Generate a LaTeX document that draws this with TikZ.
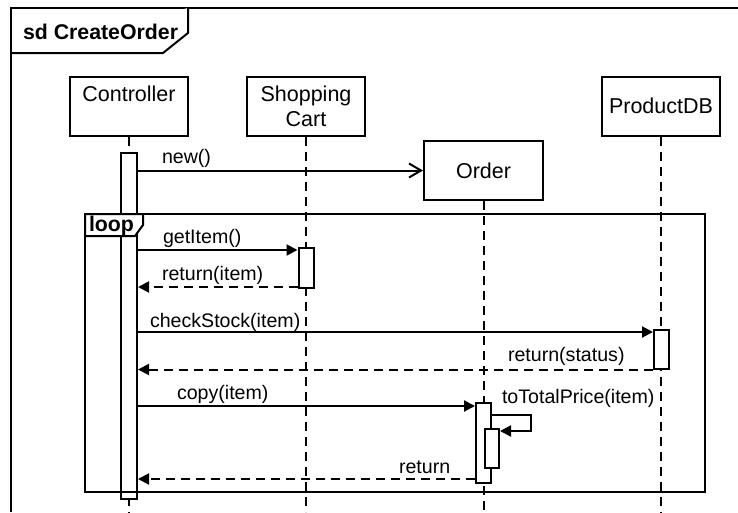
\documentclass[tikz,border=0pt]{standalone}
\usepackage{fontspec}
\setmainfont{Liberation Sans}
\usetikzlibrary{arrows.meta}
\begin{document}
\begin{tikzpicture}[x=1pt,y=-1pt, line width=2pt,
  obj/.style={draw, fill=white, minimum width=118pt, minimum height=59pt, inner sep=0pt, align=center, font=\fontsize{21.5}{25}\selectfont},
  actbar/.style={draw, fill=white, minimum width=15pt, inner sep=0pt},
  lifeline/.style={dash pattern=on 9pt off 6pt},
  msg/.style={-{Triangle[length=11pt,width=11pt]}},
  reply/.style={msg, dash pattern=on 9pt off 6pt},
  create/.style={-{Straight Barb[length=12pt,width=14pt]}},
  lbl/.style={anchor=base west, inner sep=0pt, font=\fontsize{19.6}{22}\selectfont},
  tabtext/.style={anchor=base west, inner sep=0pt, font=\bfseries\fontsize{21.3}{24}\selectfont}]
\useasboundingbox (0,0) rectangle (738,512);
% outer frame
\draw (11,512) |- (738,8);
\draw[fill=white] (188,8) -- (188,33) -- (163,53) -- (11,53);
\node[tabtext] (title) at (22,39) {sd CreateOrder};
% objects
\node[obj] (ctrl) at (129,106) {Controller\\\mbox{}};
\node[obj] (cart) at (306,106.5) {Shopping\\Cart};
\node[obj] (pdb) at (661,106) {ProductDB};
\node[obj, minimum width=119pt] (order) at (483.5,170.5) {Order};
% lifeline ends
\coordinate (ctrlend) at (129,512);
\coordinate (cartend) at (306,512);
\coordinate (pdbend) at (661,512);
\coordinate (orderend) at (483.5,512);
\draw[lifeline] (ctrl.south) -- (ctrlend);
\draw[lifeline] (cart.south) -- (cartend);
\draw[lifeline] (pdb.south) -- (pdbend);
\draw[lifeline] (order.south) -- (orderend);
% activation bars
\node[actbar, minimum width=16pt, minimum height=346pt] (ctrlbar) at (129,326) {};
\node[actbar, minimum height=40pt] (cartbar) at (306,268) {};
\node[actbar, minimum height=39pt] (pdbbar) at (661.5,349.5) {};
\node[actbar, minimum height=80pt] (orderbar) at (483.5,443) {};
\node[actbar, minimum width=14pt, minimum height=39pt] (orderbar2) at (492,448.5) {};
% loop fragment
\draw (85,214) rectangle (705,492);
\draw[fill=white] (85,214) -- (143,214) -- (143,225) -- (135,236) -- (85,236) -- cycle;
\node[tabtext] (looplbl) at (88,231) {loop};
% message levels
\coordinate (y250) at (0,250);
\coordinate (y287) at (0,287);
\coordinate (y332) at (0,332);
\coordinate (y369) at (0,369.5);
\coordinate (y406) at (0,406);
\coordinate (y431) at (0,431);
\coordinate (y479) at (0,479);
\coordinate (selfturn) at (531,415);
% messages
\draw[create] (ctrlbar.east |- order.west) -- (order.west);
\draw[msg] (ctrlbar.east |- y250) -- (cartbar.west |- y250);
\draw[reply] (cartbar.west |- y287) -- (ctrlbar.east |- y287);
\draw[msg] (ctrlbar.east |- y332) -- (pdbbar.west |- y332);
\draw[reply] (pdbbar.west |- y369) -- (ctrlbar.east |- y369);
\draw[msg] (ctrlbar.east |- y406) -- (orderbar.west |- y406);
\draw[msg] (orderbar.east |- selfturn) -- (selfturn) |- (orderbar2.east |- y431);
\draw[reply] (orderbar.west |- y479) -- (ctrlbar.east |- y479);
% labels
\node[lbl] (lnew) at (161,163) {new()};
\node[lbl] (lget) at (162,243) {getItem()};
\node[lbl] (lret1) at (161,280) {return(item)};
\node[lbl] (lchk) at (149,327) {checkStock(item)};
\node[lbl] (lret2) at (507,361) {return(status)};
\node[lbl] (lcopy) at (176,399) {copy(item)};
\node[lbl] (ltot) at (501,403) {toTotalPrice(item)};
\node[lbl] (lret3) at (398,473) {return};
\end{tikzpicture}
\end{document}
